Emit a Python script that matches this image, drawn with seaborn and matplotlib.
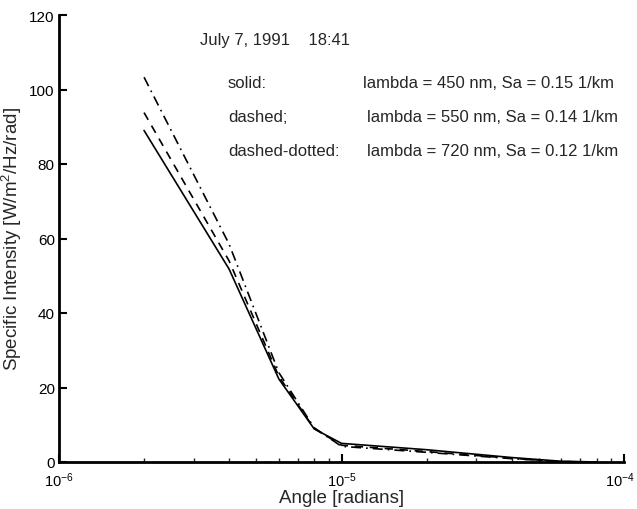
import matplotlib
matplotlib.use("Agg")
import matplotlib.pyplot as plt
import matplotlib.transforms as mtransforms
import seaborn as sns
import pandas as pd
from matplotlib.ticker import LogLocator, NullFormatter, FixedLocator

# Angle samples [radians] and specific intensity for each wavelength
angle = [2e-6, 4e-6, 6e-6, 8e-6, 1e-5, 2e-5, 4e-5, 6e-5, 8e-5]
intensity_450 = [89.0, 51.8, 22.3, 8.9, 5.0, 3.3, 1.2, 0.2, 0.0]
intensity_550 = [93.8, 54.0, 23.0, 9.0, 4.5, 2.8, 1.0, 0.1, 0.0]
intensity_720 = [103.3, 58.5, 24.0, 9.2, 4.2, 2.6, 0.9, 0.1, 0.0]

series_names = ["solid", "dashed", "dashed-dotted"]
series_values = [intensity_450, intensity_550, intensity_720]
series_styles = ["-", (0, (5, 4)), (0, (6, 3, 1, 3))]

x_ticks = [1e-6, 1e-5, 1e-4]
y_ticks = [0, 20, 40, 60, 80, 100, 120]

legend_left = ["solid:", "dashed;", "dashed-dotted:"]
legend_right = ["lambda = 450 nm, Sa = 0.15 1/km",
                "lambda = 550 nm, Sa = 0.14 1/km",
                "lambda = 720 nm, Sa = 0.12 1/km"]
title_text = "July 7, 1991    18:41"

sns.set_style("ticks")
plt.rcParams["font.family"] = ["Liberation Sans", "DejaVu Sans"]
plt.rcParams["mathtext.fontset"] = "custom"
plt.rcParams["mathtext.rm"] = "Liberation Sans"
plt.rcParams["mathtext.it"] = "Liberation Sans:italic"

fig = plt.figure(figsize=(6.37, 5.10), dpi=100)
W, H = 637, 510
x0, x1, y0, y1 = 59, 624, 463, 16
ax = fig.add_axes([x0 / W, 1 - y0 / H, (x1 - x0) / W, (y0 - y1) / H])

for name, vals, ls in zip(series_names, series_values, series_styles):
    df = pd.DataFrame({"angle": angle, "intensity": vals})
    sns.lineplot(data=df, x="angle", y="intensity", ax=ax, color="black",
                 linewidth=1.2, linestyle=ls, sort=False)

ax.set_xscale("log")
ax.set_xlim(1e-6, 1e-4)
ax.set_ylim(0, 120)
ax.set_yticks(y_ticks)
ax.xaxis.set_major_locator(FixedLocator(x_ticks))
ax.xaxis.set_minor_locator(LogLocator(base=10, subs=range(2, 10), numticks=20))
ax.xaxis.set_minor_formatter(NullFormatter())

for side in ("top", "right"):
    ax.spines[side].set_visible(False)
for side in ("left", "bottom"):
    ax.spines[side].set_linewidth(2.0)
    ax.spines[side].set_color("black")

ax.tick_params(axis="both", which="major", direction="in", length=6, width=1.5,
               labelsize=11, colors="black", pad=3)
ax.tick_params(axis="x", which="major", labelsize=10.5, pad=6)
ax.tick_params(axis="x", which="minor", direction="in", length=3, width=1.0)

ax.set_xlabel("Angle [radians]", fontsize=13.5, labelpad=0)
ax.set_ylabel("Specific Intensity [W/m$^2$/Hz/rad]", fontsize=13.5, labelpad=4)

# keep the rightmost decade label inside the canvas
fig.canvas.draw()
last_tick = ax.xaxis.get_major_ticks()[len(x_ticks) - 1]
shift = mtransforms.ScaledTranslation(-4 / 100, 0, fig.dpi_scale_trans)
last_tick.label1.set_transform(last_tick.label1.get_transform() + shift)


def px(xp, yp):
    return ((xp - x0) / (x1 - x0), (y0 - yp) / (y0 - y1))


ax.text(*px(200, 40), title_text, transform=ax.transAxes, fontsize=12,
        ha="left", va="center")
left_y = [84, 118, 151]
right_x = [363, 367, 367]
for lbl, desc, yp, xr in zip(legend_left, legend_right, left_y, right_x):
    ax.text(*px(228, yp), lbl, transform=ax.transAxes, fontsize=12,
            ha="left", va="center")
    ax.text(*px(xr, yp), desc, transform=ax.transAxes, fontsize=12,
            ha="left", va="center")

fig.savefig("out.png", dpi=100, facecolor="white")
